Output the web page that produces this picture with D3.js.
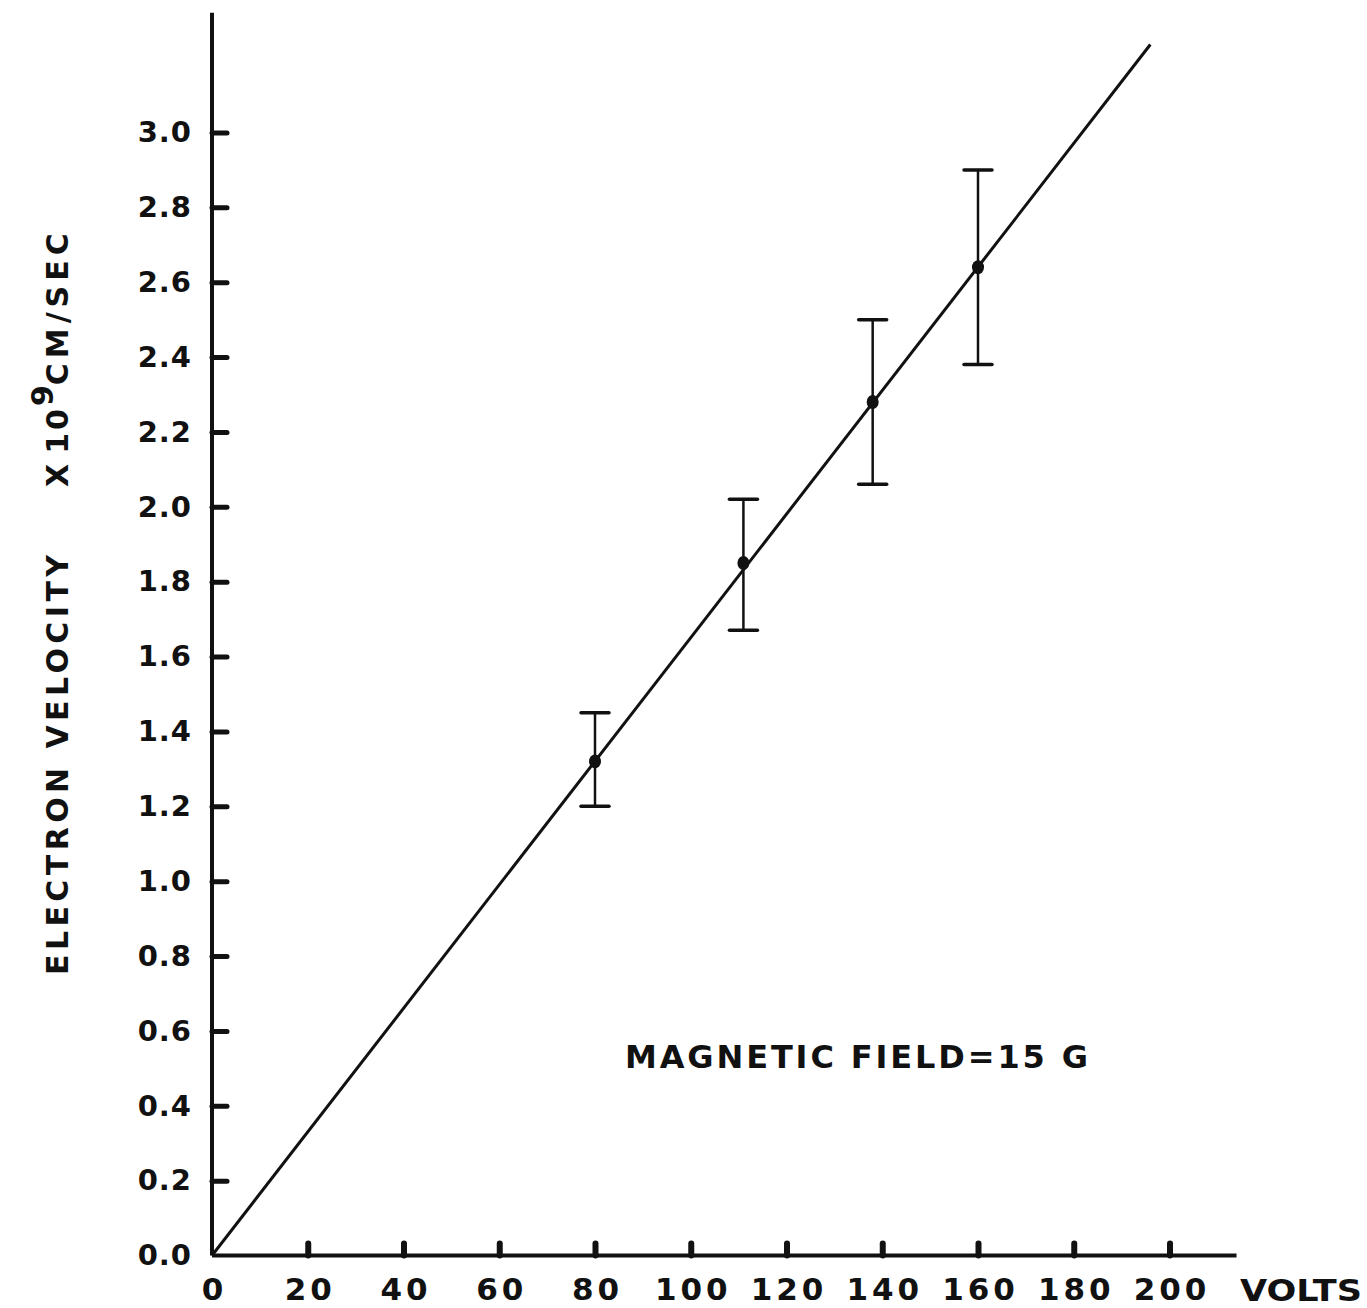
<!DOCTYPE html>
<html>
  <head>
    <meta charset="utf-8">
    <script src="https://cdn.jsdelivr.net/npm/d3@7"></script>
    <style>
      html, body { margin: 0; padding: 0; background: #fff; }
      svg { display: block; }
      text { font-family: 'DejaVu Sans', sans-serif; font-weight: bold; fill: #111; }
    </style>
  </head>
  <body>
    <svg width="1367" height="1308"></svg>
    <script>
      // measured points (volts, velocity x10^9 cm/sec) with error bar ends
      const volts = [80, 111, 138, 160];
      const velocity = [1.32, 1.85, 2.28, 2.64];
      const errLow = [1.20, 1.67, 2.06, 2.38];
      const errHigh = [1.45, 2.02, 2.50, 2.90];

      // straight fit through the origin
      const fitVolts = [0, 196];
      const fitVelocity = [0, 3.235];

      const xTicks = [0, 20, 40, 60, 80, 100, 120, 140, 160, 180, 200];
      const yTicks = [0, 0.2, 0.4, 0.6, 0.8, 1.0, 1.2, 1.4, 1.6, 1.8, 2.0, 2.2, 2.4, 2.6, 2.8, 3.0];

      const svg = d3.select("svg");
      const ink = "#111";

      const x = d3.scaleLinear().domain([0, 200]).range([212, 1169.5]);
      const y = d3.scaleLinear().domain([0, 3.0]).range([1255.5, 132.5]);

      // axis lines
      svg.append("line")
        .attr("x1", x(0)).attr("x2", x(0))
        .attr("y1", y(0)).attr("y2", y(3.32))
        .attr("stroke", ink).attr("stroke-width", 4);
      svg.append("line")
        .attr("x1", x(0)).attr("x2", x(214))
        .attr("y1", y(0)).attr("y2", y(0))
        .attr("stroke", ink).attr("stroke-width", 4);

      // y axis ticks (pointing into the plot)
      const yAxis = svg.append("g")
        .attr("transform", `translate(${x(0)},0)`)
        .call(d3.axisLeft(y).tickValues(yTicks).tickSize(-15).tickSizeOuter(0)
          .tickPadding(20).tickFormat(d3.format(".1f")));
      yAxis.select(".domain").remove();
      yAxis.selectAll(".tick line")
        .attr("stroke", ink).attr("stroke-width", 5).attr("stroke-linecap", "round")
        .filter(d => d === 0).remove();
      yAxis.selectAll(".tick text")
        .attr("font-size", 29).attr("letter-spacing", 1)
        .attr("fill", ink).attr("font-family", "'DejaVu Sans', sans-serif")
        .attr("font-weight", "bold");

      // x axis ticks (pointing up)
      const xAxis = svg.append("g")
        .attr("transform", `translate(0,${y(0)})`)
        .call(d3.axisBottom(x).tickValues(xTicks).tickSize(-12).tickSizeOuter(0)
          .tickPadding(22).tickFormat(d3.format("d")));
      xAxis.select(".domain").remove();
      xAxis.selectAll(".tick line")
        .attr("stroke", ink).attr("stroke-width", 6).attr("stroke-linecap", "round")
        .filter(d => d === 0).remove();
      xAxis.selectAll(".tick text")
        .attr("font-size", 31).attr("letter-spacing", 4).attr("dx", 2)
        .attr("fill", ink).attr("font-family", "'DejaVu Sans', sans-serif")
        .attr("font-weight", "bold");

      svg.append("text")
        .attr("x", 1240).attr("y", 1301)
        .attr("font-size", 31).attr("textLength", 122).attr("lengthAdjust", "spacingAndGlyphs")
        .text("VOLTS");

      // fitted line
      svg.append("path")
        .datum(d3.zip(fitVolts, fitVelocity))
        .attr("fill", "none").attr("stroke", ink).attr("stroke-width", 3)
        .attr("d", d3.line().x(d => x(d[0])).y(d => y(d[1])));

      // error bars and points
      const pts = volts.map((v, i) => ({ v, s: velocity[i], lo: errLow[i], hi: errHigh[i] }));
      const g = svg.append("g").attr("stroke", ink);
      g.selectAll(".bar").data(pts).join("line")
        .attr("class", "bar")
        .attr("x1", d => x(d.v)).attr("x2", d => x(d.v))
        .attr("y1", d => y(d.lo)).attr("y2", d => y(d.hi))
        .attr("stroke-width", 2.5);
      g.selectAll(".cap").data(pts.flatMap(d => [{ v: d.v, e: d.lo }, { v: d.v, e: d.hi }])).join("line")
        .attr("class", "cap")
        .attr("x1", d => x(d.v) - 14).attr("x2", d => x(d.v) + 14)
        .attr("y1", d => y(d.e)).attr("y2", d => y(d.e))
        .attr("stroke-width", 3.5).attr("stroke-linecap", "round");
      svg.selectAll(".pt").data(pts).join("ellipse")
        .attr("class", "pt")
        .attr("cx", d => x(d.v)).attr("cy", d => y(d.s))
        .attr("rx", 6).attr("ry", 7).attr("fill", ink);

      // annotation
      svg.append("text")
        .attr("x", 625).attr("y", 1068)
        .attr("font-size", 32).attr("textLength", 463).attr("lengthAdjust", "spacing")
        .text("MAGNETIC FIELD=15 G");

      // y axis title
      const yl = svg.append("g").attr("transform", "translate(68,0) rotate(-90)");
      yl.append("text")
        .attr("x", -975).attr("y", 0)
        .attr("font-size", 30).attr("textLength", 420).attr("lengthAdjust", "spacing")
        .text("ELECTRON VELOCITY");
      const unit = yl.append("text")
        .attr("x", -487).attr("y", 0)
        .attr("font-size", 30);
      unit.append("tspan").attr("letter-spacing", 10).text("X");
      unit.append("tspan").attr("letter-spacing", 3).text("10");
      unit.append("tspan").attr("dy", -15).attr("font-size", 30).text("9");
      unit.append("tspan").attr("dy", 15).attr("letter-spacing", 5).text("CM/SEC");
    </script>
  </body>
</html>
